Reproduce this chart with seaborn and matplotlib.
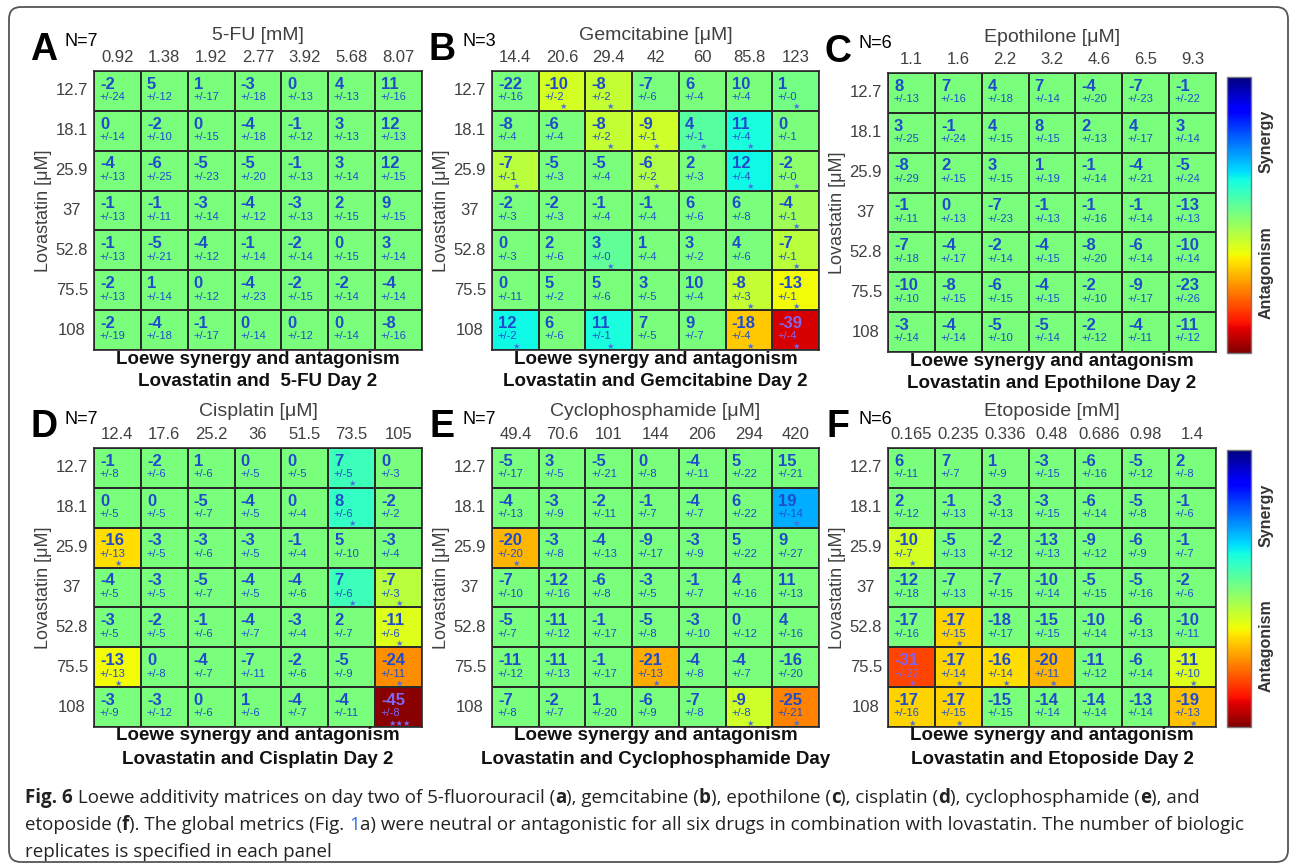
import numpy as np
import pandas as pd
import matplotlib
matplotlib.use('Agg')
import matplotlib.pyplot as plt
import seaborn as sns
from matplotlib.patches import FancyBboxPatch
from matplotlib.transforms import IdentityTransform

# ---- data ----
LOVA = ["12.7", "18.1", "25.9", "37", "52.8", "75.5", "108"]

FU_DOSE = ["0.92", "1.38", "1.92", "2.77", "3.92", "5.68", "8.07"]
FU_SCORE = [[-2, 5, 1, -3, 0, 4, 11],
            [0, -2, 0, -4, -1, 3, 12],
            [-4, -6, -5, -5, -1, 3, 12],
            [-1, -1, -3, -4, -3, 2, 9],
            [-1, -5, -4, -1, -2, 0, 3],
            [-2, 1, 0, -4, -2, -2, -4],
            [-2, -4, -1, 0, 0, 0, -8]]
FU_ERR = [[24, 12, 17, 18, 13, 13, 16],
          [14, 10, 15, 18, 12, 13, 13],
          [13, 25, 23, 20, 13, 14, 15],
          [13, 11, 14, 12, 13, 15, 15],
          [13, 21, 12, 14, 14, 15, 14],
          [13, 14, 12, 23, 15, 14, 14],
          [19, 18, 17, 14, 12, 14, 16]]
FU_SIG = [[""] * 7 for _ in range(7)]

GEM_DOSE = ["14.4", "20.6", "29.4", "42", "60", "85.8", "123"]
GEM_SCORE = [[-22, -10, -8, -7, 6, 10, 1],
             [-8, -6, -8, -9, 4, 11, 0],
             [-7, -5, -5, -6, 2, 12, -2],
             [-2, -2, -1, -1, 6, 6, -4],
             [0, 2, 3, 1, 3, 4, -7],
             [0, 5, 5, 3, 10, -8, -13],
             [12, 6, 11, 7, 9, -18, -39]]
GEM_ERR = [[16, 2, 2, 6, 4, 4, 0],
           [4, 4, 2, 1, 1, 4, 1],
           [1, 3, 4, 2, 3, 4, 0],
           [3, 3, 4, 4, 6, 8, 1],
           [3, 6, 0, 4, 2, 6, 1],
           [11, 2, 6, 5, 4, 3, 1],
           [2, 6, 1, 5, 7, 4, 4]]
GEM_SIG = [["", "*", "*", "", "", "", "*"],
           ["", "", "*", "*", "*", "*", ""],
           ["*", "", "", "*", "", "*", "*"],
           ["", "", "", "", "", "", "*"],
           ["", "", "*", "", "", "", "*"],
           ["", "", "", "", "", "*", "*"],
           ["*", "", "*", "", "", "*", "*"]]

EPO_DOSE = ["1.1", "1.6", "2.2", "3.2", "4.6", "6.5", "9.3"]
EPO_SCORE = [[8, 7, 4, 7, -4, -7, -1],
             [3, -1, 4, 8, 2, 4, 3],
             [-8, 2, 3, 1, -1, -4, -5],
             [-1, 0, -7, -1, -1, -1, -13],
             [-7, -4, -2, -4, -8, -6, -10],
             [-10, -8, -6, -4, -2, -9, -23],
             [-3, -4, -5, -5, -2, -4, -11]]
EPO_ERR = [[13, 16, 18, 14, 20, 23, 22],
           [25, 24, 15, 15, 13, 17, 14],
           [29, 15, 15, 19, 14, 21, 24],
           [11, 13, 23, 13, 16, 14, 13],
           [18, 17, 14, 15, 20, 14, 14],
           [10, 15, 15, 15, 10, 17, 26],
           [14, 14, 10, 14, 12, 11, 12]]
EPO_SIG = [[""] * 7 for _ in range(7)]

CIS_DOSE = ["12.4", "17.6", "25.2", "36", "51.5", "73.5", "105"]
CIS_SCORE = [[-1, -2, 1, 0, 0, 7, 0],
             [0, 0, -5, -4, 0, 8, -2],
             [-16, -3, -3, -3, -1, 5, -3],
             [-4, -3, -5, -4, -4, 7, -7],
             [-3, -2, -1, -4, -3, 2, -11],
             [-13, 0, -4, -7, -2, -5, -24],
             [-3, -3, 0, 1, -4, -4, -45]]
CIS_ERR = [[8, 6, 6, 5, 5, 5, 3],
           [5, 5, 7, 5, 4, 6, 2],
           [13, 5, 6, 5, 4, 10, 4],
           [5, 5, 7, 5, 6, 6, 3],
           [5, 5, 6, 7, 4, 7, 6],
           [13, 8, 7, 11, 6, 9, 11],
           [9, 12, 6, 6, 7, 11, 8]]
CIS_SIG = [["", "", "", "", "", "*", ""],
           ["", "", "", "", "", "*", ""],
           ["*", "", "", "", "", "", ""],
           ["", "", "", "", "", "*", "*"],
           ["", "", "", "", "", "", "*"],
           ["*", "", "", "", "", "", "*"],
           ["", "", "", "", "", "", "***"]]

CYC_DOSE = ["49.4", "70.6", "101", "144", "206", "294", "420"]
CYC_SCORE = [[-5, 3, -5, 0, -4, 5, 15],
             [-4, -3, -2, -1, -4, 6, 19],
             [-20, -3, -4, -9, -3, 5, 9],
             [-7, -12, -6, -3, -1, 4, 11],
             [-5, -11, -1, -5, -3, 0, 4],
             [-11, -11, -1, -21, -4, -4, -16],
             [-7, -2, 1, -6, -7, -9, -25]]
CYC_ERR = [[17, 5, 21, 8, 11, 22, 21],
           [13, 9, 11, 7, 7, 22, 14],
           [20, 8, 13, 17, 9, 22, 27],
           [10, 16, 8, 5, 7, 16, 13],
           [7, 12, 17, 8, 10, 12, 16],
           [12, 13, 17, 13, 8, 7, 20],
           [8, 7, 20, 9, 8, 8, 21]]
CYC_SIG = [["", "", "", "", "", "", ""],
           ["", "", "", "", "", "", "*"],
           ["*", "", "", "", "", "", ""],
           ["", "", "", "", "", "", ""],
           ["", "", "", "", "", "", ""],
           ["", "", "", "*", "", "", ""],
           ["", "", "", "", "", "*", "*"]]

ETO_DOSE = ["0.165", "0.235", "0.336", "0.48", "0.686", "0.98", "1.4"]
ETO_SCORE = [[6, 7, 1, -3, -6, -5, 2],
             [2, -1, -3, -3, -6, -5, -1],
             [-10, -5, -2, -13, -9, -6, -1],
             [-12, -7, -7, -10, -5, -5, -2],
             [-17, -17, -18, -15, -10, -6, -10],
             [-31, -17, -16, -20, -11, -6, -11],
             [-17, -17, -15, -14, -14, -13, -19]]
ETO_ERR = [[11, 7, 9, 15, 16, 12, 8],
           [12, 13, 13, 15, 14, 8, 6],
           [7, 13, 12, 13, 12, 9, 7],
           [18, 13, 15, 14, 15, 16, 6],
           [16, 15, 17, 15, 14, 13, 11],
           [22, 14, 14, 11, 12, 14, 10],
           [16, 15, 15, 14, 14, 14, 13]]
ETO_SIG = [["", "", "", "", "", "", ""],
           ["", "", "", "", "", "", ""],
           ["*", "", "", "", "", "", ""],
           ["", "", "", "", "", "", ""],
           ["", "*", "", "", "", "", ""],
           ["*", "*", "*", "*", "", "", "*"],
           ["*", "*", "", "", "", "", "*"]]

W, H = 1292, 864
VLIM = 46
BLUE = '#1f4ccc'
DARK_TXT = '#7f66f0'
STAR = '#4a6fe0'
GRAY = '#404040'

sns.set_theme(style='white')
plt.rcParams['font.family'] = ['Liberation Sans', 'DejaVu Sans']

fig = plt.figure(figsize=(W / 100, H / 100), dpi=100)
fig.patch.set_facecolor('white')


def fx(x):
    return x / W


def fy(y):
    return 1 - y / H


def draw_panel(letter, n, title, line2, doses, score, err, sig, box, cbar_box=None):
    x0, y0, x1, y1 = box
    ax = fig.add_axes([fx(x0), fy(y1), (x1 - x0) / W, (y1 - y0) / H])
    score = np.array(score)
    sig = np.array(sig)
    # only significant cells get coloured, the rest stay at the neutral colour
    shown = np.where(sig != "", score, 0)
    df = pd.DataFrame(shown, index=LOVA, columns=doses)

    cax = None
    if cbar_box is not None:
        cx0, cy0, cx1, cy1 = cbar_box
        cax = fig.add_axes([fx(cx0), fy(cy1), (cx1 - cx0) / W, (cy1 - cy0) / H])
    sns.heatmap(df, ax=ax, cmap='jet_r', vmin=-VLIM, vmax=VLIM,
                linewidths=1.1, linecolor='#2a2a2a',
                cbar=cax is not None, cbar_ax=cax,
                xticklabels=doses, yticklabels=LOVA)

    ax.xaxis.tick_top()
    ax.tick_params(axis='x', length=0, pad=4, labelsize=12, labelcolor=GRAY)
    ax.tick_params(axis='y', length=0, pad=16, labelsize=12, labelcolor=GRAY)
    for lab in ax.get_xticklabels():
        lab.set_rotation(0)
    for lab in ax.get_yticklabels():
        lab.set_rotation(0)
        lab.set_ha('center')
    ax.set_xlabel('')
    ax.set_ylabel('')
    for s in ax.spines.values():
        s.set_visible(True)
        s.set_color('#2a2a2a')
        s.set_linewidth(1.2)

    # cell annotations
    for i in range(len(LOVA)):
        for j in range(len(doses)):
            dark = shown[i, j] <= -30
            c = DARK_TXT if dark else BLUE
            ax.text(j + 0.13, i + 0.33, str(score[i, j]), ha='left', va='center',
                    fontsize=12, fontweight='bold', color=c)
            ax.text(j + 0.12, i + 0.66, '+/-%d' % err[i][j], ha='left', va='center',
                    fontsize=8, color=c)
            if sig[i, j]:
                ax.text(j + 0.52, i + 0.9, '\u2605' * len(sig[i, j]), ha='center', va='center',
                        fontsize=6, color=DARK_TXT if dark else STAR,
                        family=['DejaVu Sans'])

    # panel labels and titles
    cx = (x0 + x1) / 2
    fig.text(fx(x0 - 50), fy(y0 - 21), letter, fontsize=27, fontweight='bold',
             ha='center', va='center', color='black')
    fig.text(fx(x0 - 13), fy(y0 - 29), 'N=%d' % n, fontsize=13,
             ha='center', va='center', color='black')
    fig.text(fx(cx), fy(y0 - 36), title, fontsize=14, ha='center', va='center', color=GRAY)
    fig.text(fx(x0 - 51), fy((y0 + y1) / 2), 'Lovastatin [\u03bcM]', fontsize=13,
             rotation=90, ha='center', va='center', color=GRAY)
    fig.text(fx(cx), fy(y1 + 9), 'Loewe synergy and antagonism', fontsize=13.5,
             fontweight='bold', ha='center', va='center', color='#111111')
    fig.text(fx(cx), fy(y1 + 32), line2, fontsize=13.5,
             fontweight='bold', ha='center', va='center', color='#111111')

    if cax is not None:
        cax.set_yticks([])
        cax.tick_params(length=0)
        cb = ax.collections[0].colorbar
        cb.outline.set_edgecolor('#777777')
        cb.outline.set_linewidth(1.0)
        cx0, cy0, cx1, cy1 = cbar_box
        ch = cy1 - cy0
        fig.text(fx(cx1 + 15), fy(cy0 + 0.235 * ch), 'Synergy', rotation=90,
                 fontsize=11.5, fontweight='bold', ha='center', va='center', color='#333333')
        fig.text(fx(cx1 + 15), fy(cy0 + 0.707 * ch), 'Antagonism', rotation=90,
                 fontsize=11.5, fontweight='bold', ha='center', va='center', color='#333333')


COLS = [(94, 422), (492, 819), (888, 1216)]
ROW1 = (71, 350)
ROW2 = (448, 727)

draw_panel('A', 7, '5-FU [mM]', 'Lovastatin and  5-FU Day 2', FU_DOSE, FU_SCORE, FU_ERR, FU_SIG,
           (COLS[0][0], ROW1[0], COLS[0][1], ROW1[1]))
draw_panel('B', 3, 'Gemcitabine [\u03bcM]', 'Lovastatin and Gemcitabine Day 2', GEM_DOSE, GEM_SCORE,
           GEM_ERR, GEM_SIG, (COLS[1][0], ROW1[0], COLS[1][1], ROW1[1]))
draw_panel('C', 6, 'Epothilone [\u03bcM]', 'Lovastatin and Epothilone Day 2', EPO_DOSE, EPO_SCORE,
           EPO_ERR, EPO_SIG, (COLS[2][0], ROW1[0] + 2, COLS[2][1], ROW1[1] + 2),
           cbar_box=(1227, 77, 1251, 353))
draw_panel('D', 7, 'Cisplatin [\u03bcM]', 'Lovastatin and Cisplatin Day 2', CIS_DOSE, CIS_SCORE,
           CIS_ERR, CIS_SIG, (COLS[0][0], ROW2[0], COLS[0][1], ROW2[1]))
draw_panel('E', 7, 'Cyclophosphamide [\u03bcM]', 'Lovastatin and Cyclophosphamide Day', CYC_DOSE,
           CYC_SCORE, CYC_ERR, CYC_SIG, (COLS[1][0], ROW2[0], COLS[1][1], ROW2[1]))
draw_panel('F', 6, 'Etoposide [mM]', 'Lovastatin and Etoposide Day 2', ETO_DOSE, ETO_SCORE,
           ETO_ERR, ETO_SIG, (COLS[2][0], ROW2[0], COLS[2][1], ROW2[1]),
           cbar_box=(1227, 450, 1251, 727))

# ---- caption with mixed styles ----
renderer = fig.canvas.get_renderer()
CAP_FONT = ['Open Sans', 'DejaVu Sans']
N_, B_ = 'normal', 'bold'
CAPTION = [
    [("Fig. 6", B_, '#222222'),
     (" Loewe additivity matrices on day two of 5-fluorouracil (", N_, '#222222'), ("a", B_, '#222222'),
     ("), gemcitabine (", N_, '#222222'), ("b", B_, '#222222'),
     ("), epothilone (", N_, '#222222'), ("c", B_, '#222222'),
     ("), cisplatin (", N_, '#222222'), ("d", B_, '#222222'),
     ("), cyclophosphamide (", N_, '#222222'), ("e", B_, '#222222'),
     ("), and", N_, '#222222')],
    [("etoposide (", N_, '#222222'), ("f", B_, '#222222'),
     ("). The global metrics (Fig. ", N_, '#222222'), ("1", N_, '#3a6fd8'),
     ("a) were neutral or antagonistic for all six drugs in combination with lovastatin. "
      "The number of biologic", N_, '#222222')],
    [("replicates is specified in each panel", N_, '#222222')],
]


def seg_width(txt, size, weight):
    t1 = fig.text(0, 0, '|' + txt + '|', fontsize=size, fontweight=weight, family=CAP_FONT)
    t2 = fig.text(0, 0, '||', fontsize=size, fontweight=weight, family=CAP_FONT)
    w = t1.get_window_extent(renderer).width - t2.get_window_extent(renderer).width
    t1.remove()
    t2.remove()
    return w


ref = sum(seg_width(s, 10, w) for s, w, _ in CAPTION[0])
cap_size = 10 * (1202 - 25) / ref

for k, line in enumerate(CAPTION):
    x = 25
    y = 798 + 27 * k
    for txt, wt, col in line:
        fig.text(fx(x), fy(y), txt, fontsize=cap_size, fontweight=wt, color=col,
                 family=CAP_FONT, ha='left', va='center')
        x += seg_width(txt, cap_size, wt)

frame = FancyBboxPatch((9, 2), 1279, 855, boxstyle='round,pad=0,rounding_size=12',
                       transform=IdentityTransform(), fill=False,
                       edgecolor='#555555', linewidth=1.3)
fig.add_artist(frame)

fig.savefig('out.png', dpi=100, facecolor='white')
